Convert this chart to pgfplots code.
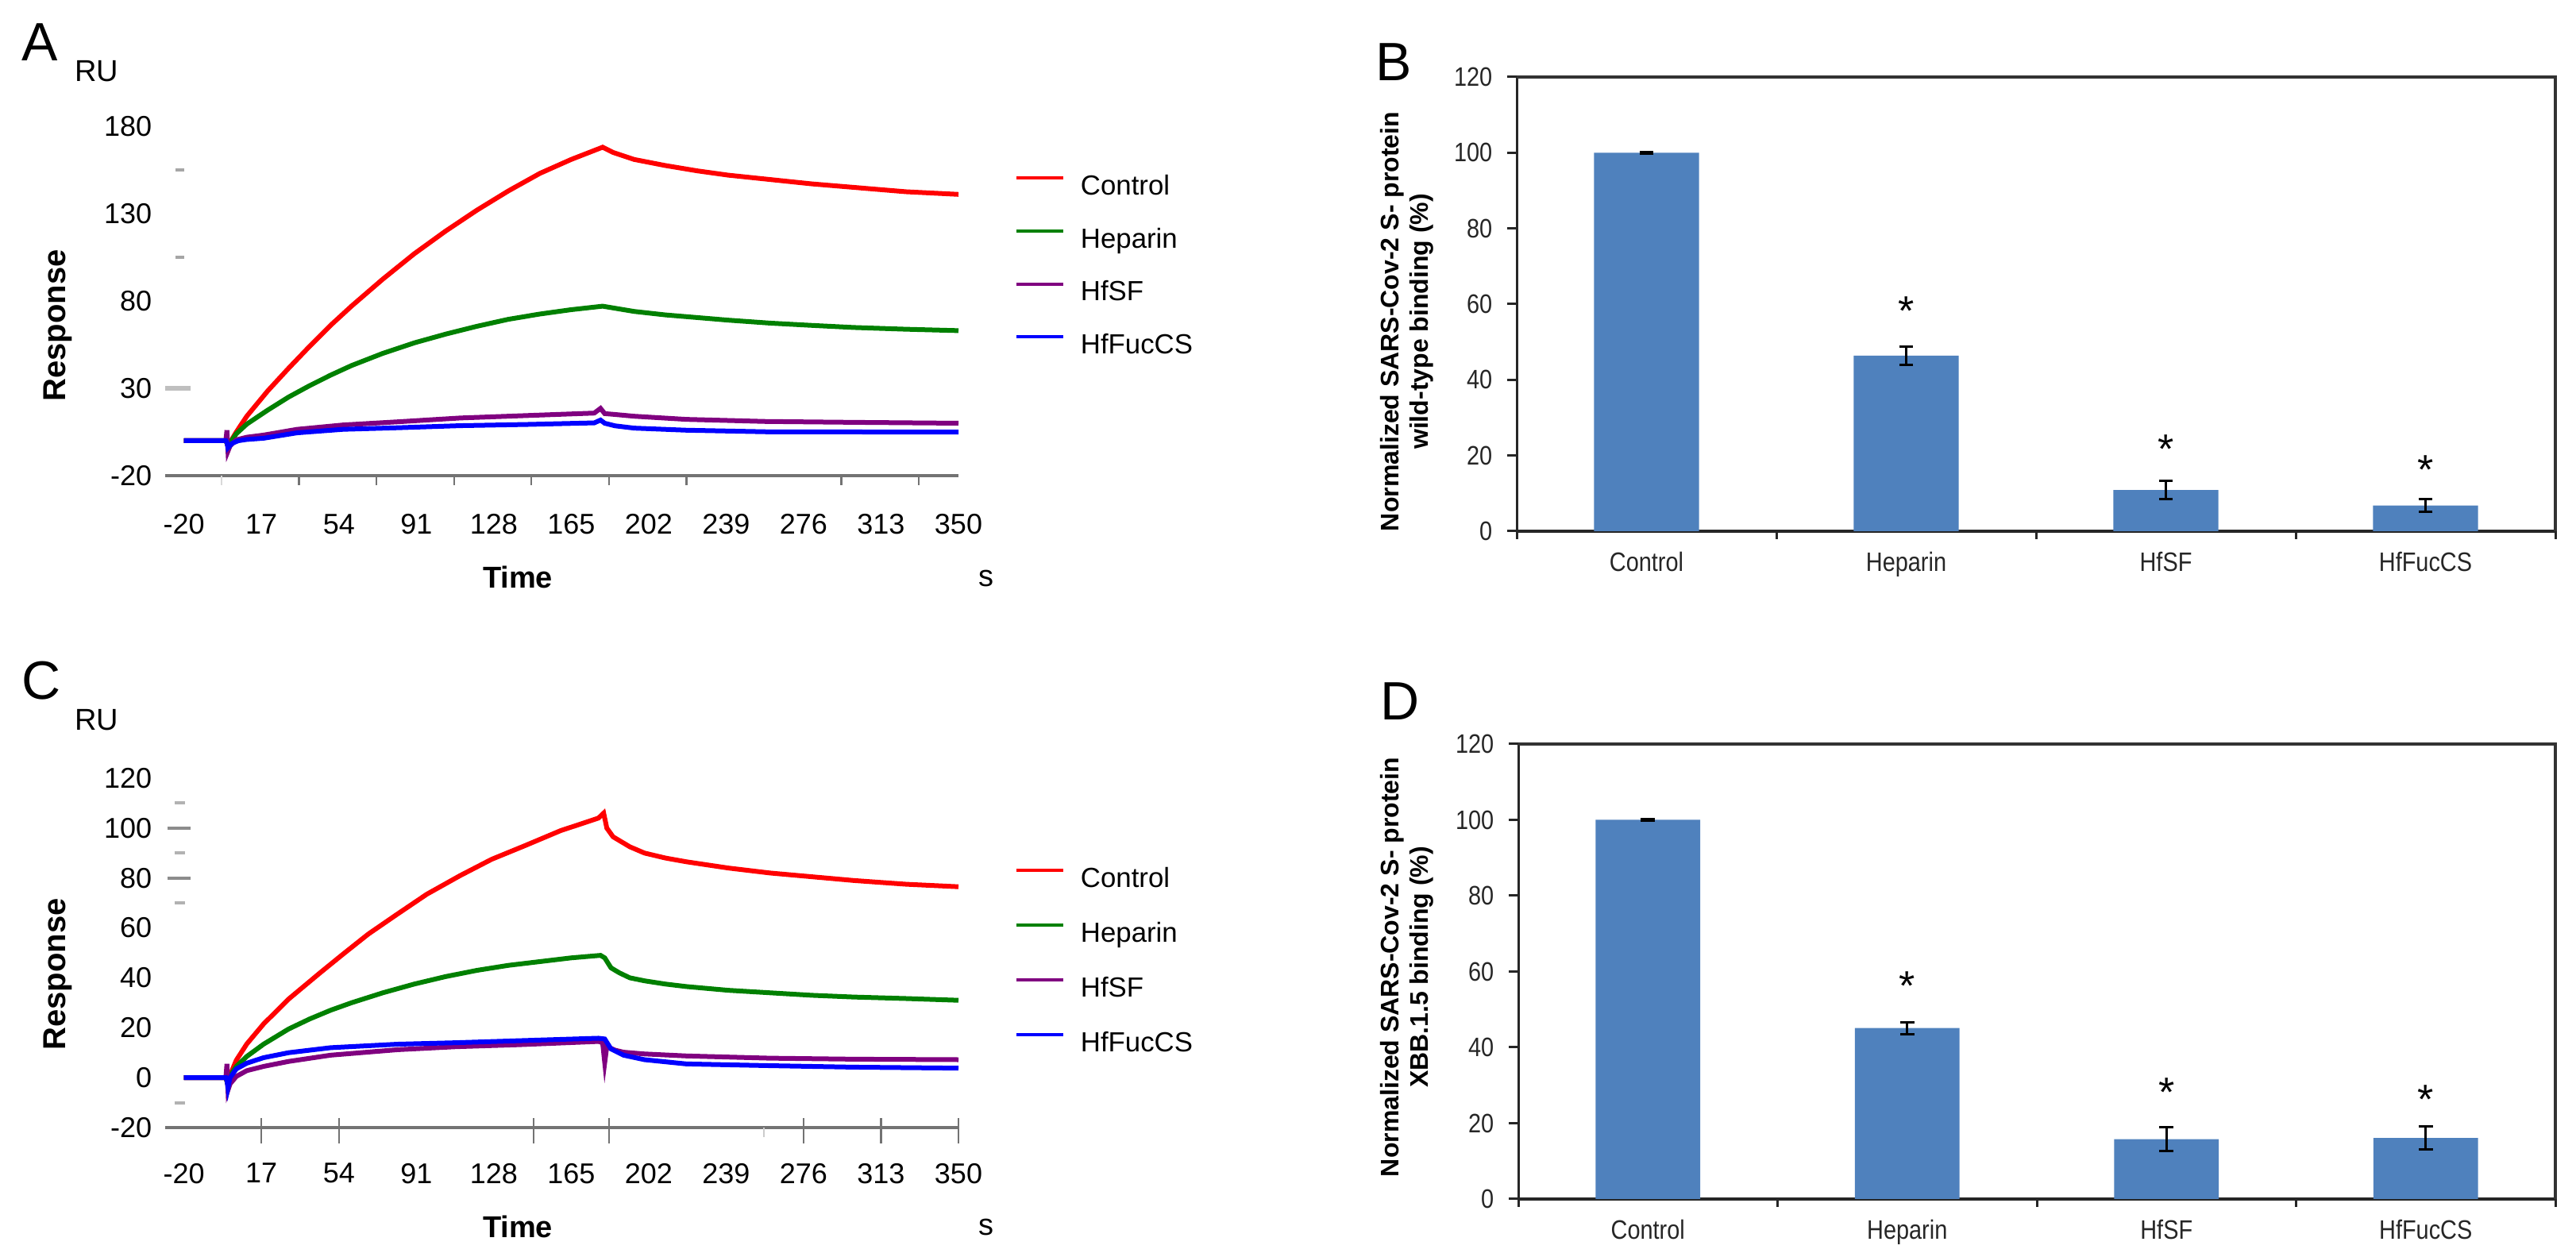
\documentclass[border=0pt]{standalone}
\usepackage{fontspec}
\setmainfont{Liberation Sans}
\newfontfamily\narrowfont{Liberation Sans}[FakeStretch=0.86]
\usepackage{pgfplots}
\pgfplotsset{compat=1.18}

\definecolor{barblue}{RGB}{79,129,189}
\definecolor{cgreen}{RGB}{0,128,0}
\definecolor{cpurple}{RGB}{128,0,128}

\pgfplotsset{
  sensor/.style={
    scale only axis, width=249.75pt, height=110pt,
    xmin=-29, xmax=350, clip=false,
    axis lines*=left,
    x axis line style={draw=black!55, line width=0.8pt},
    y axis line style={draw=none},
    xtick={-20,17,54,91,128,165,202,239,276,313,350},
    xtick style={draw=none}, ytick style={draw=none},
    major tick length=0pt,
    tick label style={font=\fontsize{9}{9}\selectfont},
    xticklabel style={inner sep=0pt, anchor=north},
    yticklabel style={inner sep=0pt, anchor=east, xshift=-4pt},
    /pgf/number format/assume math mode=true,
    legend cell align=left,
    legend image code/.code={\draw[##1, line width=1pt] (0pt,3pt) -- (14.75pt,3pt);},
    legend style={draw=none, fill=none, inner sep=0pt, outer sep=0pt,
      anchor=north west, font=\fontsize{8.7}{8.7}\selectfont,
      nodes={inner sep=0pt, text height=6.5pt, text depth=1.8pt},
      /tikz/every odd column/.append style={column sep=5pt}},
    every axis plot/.append style={line width=1.5pt},
  },
  bars/.style={
    scale only axis, height=143pt,
    xmin=-0.5, xmax=3.5, ymin=0, ymax=120, clip=false,
    axis lines*=left,
    x axis line style={line width=1pt, draw=black!85},
    y axis line style={line width=0.75pt, draw=black!85},
    xtick={0,1,2,3}, xticklabels={Control,Heparin,HfSF,HfFucCS},
    xtick style={draw=none},
    ytick={0,20,...,120},
    ytick style={line width=0.75pt, draw=black!85},
    tick align=outside, major tick length=3pt,
    tick label style={font=\narrowfont\fontsize{8.4}{8.4}\selectfont, text=black!85},
    xticklabel style={inner sep=0pt, anchor=north, yshift=-3.4pt},
    yticklabel style={inner sep=0pt, anchor=east, xshift=-4.5pt},
    /pgf/number format/assume math mode=true,
  },
  barplot/.style={ybar, bar width=0.404, fill=barblue, draw=none,
    error bars/.cd, y dir=both, y explicit,
    error bar style={line width=0.75pt, draw=black},
    error mark options={rotate=90, line width=0.75pt, mark size=2.2pt, draw=black}},
  stars/.style={only marks, mark=text, text mark={*}, text mark as node=true,
    text mark style={font=\fontsize{13}{13}\selectfont, yshift=-2pt, inner sep=0pt}},
}

\begin{document}
\begin{tikzpicture}
\path[use as bounding box] (0,0) rectangle (811pt,395.75pt);

% ---------------- A ----------------
\begin{axis}[sensor, at={(52pt,246pt)}, anchor=south west,
    ymin=-20, ymax=180, ytick={-20,30,80,130,180},
    xticklabel style={yshift=-11.9pt},
    legend style={at={(1.071,0.8627)}, row sep=8.4pt}]
\addplot[red] coordinates {
(-20,0) (0,0) (1,-3) (5,5) (10,14) (20,28.5) (30,41.5) (40,54) (50,66) (60,77)
(75,92.5) (90,107) (105,120) (120,132) (135,143) (150,153) (165,161) (180,168)
(185,165) (195,161) (210,157.5) (225,154.5) (240,152) (260,149.5) (280,147)
(300,145) (325,142.5) (350,141)};
\addlegendentry{Control}
\addplot[cgreen] coordinates {
(-20,0) (0,0) (1,-3) (5,4) (10,9.5) (20,17.5) (30,25) (40,31.5) (50,37.5) (60,43)
(75,50) (90,56) (105,61) (120,65.5) (135,69.5) (150,72.5) (165,75) (180,77)
(185,76) (195,74) (210,72) (225,70.5) (240,69) (260,67.3) (280,66) (300,64.8)
(325,63.8) (350,63)};
\addlegendentry{Heparin}
\addplot[cpurple] coordinates {
(-20,0) (0,0) (0.5,6) (1,-6) (2,-3) (5,0.5) (10,2) (18,3.2) (34,6.5) (56,9)
(82,10.8) (112,13) (144,14.4) (176,15.8) (179,18.5) (181,15.5) (186,15) (195,14)
(220,12.2) (258,11) (300,10.5) (350,10)};
\addlegendentry{HfSF}
\addplot[blue] coordinates {
(-20,0) (0,0) (0.5,-1) (1,-4) (3,-1.5) (6,0) (10,0.7) (18,1.4) (34,4.5) (56,6.5)
(82,7.4) (112,8.6) (144,9.3) (176,10.2) (179,11.8) (181,10) (186,8.5) (195,7.2)
(220,6) (258,5.1) (300,5) (350,4.9)};
\addlegendentry{HfFucCS}
\pgfplotsinvokeforeach{35,72,109,146,183,220,294,331}{
  \draw[black!55, line width=0.6pt] (axis cs:#1,-20) -- ([yshift=-3pt]axis cs:#1,-20);}
\draw[black!15, line width=0.6pt] (axis cs:-2,-20) -- ([yshift=-3pt]axis cs:-2,-20);
\draw[black!25, line width=1.5pt] (axis cs:-29,30) -- ([xshift=8pt]axis cs:-29,30);
\draw[black!35, line width=1pt] (axis cs:-24,105) -- ([xshift=2.75pt]axis cs:-24,105);
\draw[black!35, line width=1pt] (axis cs:-24,155) -- ([xshift=2.75pt]axis cs:-24,155);
\end{axis}

% ---------------- C ----------------
\begin{axis}[sensor, at={(52pt,40.75pt)}, anchor=south west,
    ymin=-20, ymax=120, ytick={-20,0,...,120},
    xticklabel style={yshift=-11.1pt},
    legend style={at={(1.071,0.7468)}, row sep=8.95pt}]
\addplot[red] coordinates {
(-20,0) (0,0) (1,-3) (3,3) (5,7) (10,13.5) (18,21.5) (30,31.5) (45,42) (56,49.5)
(68,57.5) (81,65) (96,73.5) (112,81) (127,87.5) (143,93) (160,99) (178,104)
(180.5,106) (182,100) (185,96.5) (193,92.5) (200,90) (210,88) (220,86.5)
(240,84) (260,82) (280,80.5) (300,79) (325,77.5) (350,76.5)};
\addlegendentry{Control}
\addplot[cgreen] coordinates {
(-20,0) (0,0) (1,-3) (3,2) (5,4.5) (10,8.5) (18,13.4) (30,19.5) (40,23.5) (50,27)
(60,30) (75,34) (90,37.5) (105,40.5) (120,43) (135,45) (150,46.5) (165,48)
(179,49) (181,48) (184,44) (188,42) (193,40) (200,38.8) (210,37.5) (220,36.5)
(240,35) (260,34) (280,33) (300,32.3) (325,31.7) (350,31)};
\addlegendentry{Heparin}
\addplot[cpurple] coordinates {
(-20,0) (0,0) (0.5,5.5) (1,-5) (2,-2.5) (5,0.5) (10,2.8) (18,4.5) (30,6.5) (50,9)
(82,11.2) (110,12.4) (140,13.2) (178,14.5) (180,14) (181,6) (182,12.5) (186,11)
(190,10.2) (200,9.5) (220,8.7) (260,7.8) (300,7.4) (350,7.2)};
\addlegendentry{HfSF}
\addplot[blue] coordinates {
(-20,0) (0,0) (0.5,-1) (1,-4) (2,0) (5,3.5) (10,5.8) (18,8) (30,10) (50,12)
(82,13.4) (110,14) (140,14.8) (178,15.8) (181,15.5) (184,11.5) (190,9) (200,7.2)
(220,5.5) (260,4.8) (300,4.2) (350,3.8)};
\addlegendentry{HfFucCS}
\pgfplotsinvokeforeach{17,54,147,183,276,313,350}{
  \draw[black!55, line width=0.6pt] ([yshift=3pt]axis cs:#1,-20) -- ([yshift=-5pt]axis cs:#1,-20);}
\draw[black!20, line width=0.6pt] (axis cs:257,-20) -- ([yshift=-3pt]axis cs:257,-20);
\draw[black!45, line width=1pt] (axis cs:-28,100) -- ([xshift=7.25pt]axis cs:-28,100);
\draw[black!45, line width=1pt] (axis cs:-28,80) -- ([xshift=7.25pt]axis cs:-28,80);
\pgfplotsinvokeforeach{110,90,70,-10}{
  \draw[black!30, line width=1pt] (axis cs:-24.5,#1) -- ([xshift=3.25pt]axis cs:-24.5,#1);}
\end{axis}

% ---------------- B ----------------
\begin{axis}[bars, at={(477.5pt,228.5pt)}, anchor=south west, width=327pt]
\addplot[barplot]
  coordinates {(0,100) +- (0,0.2) (1,46.4) +- (0,2.4) (2,10.9) +- (0,2.4) (3,6.8) +- (0,1.7)};
\addplot[stars] coordinates {(1,59.8) (2,23.4) (3,18)};
\pgfplotsinvokeforeach{-0.5,0.5,1.5,2.5,3.5}{
  \draw[black!85, line width=0.75pt] (axis cs:#1,0) -- ([yshift=-2.5pt]axis cs:#1,0);}
\draw[black!80, line width=1pt] (rel axis cs:0,1) -- (rel axis cs:1,1) -- (rel axis cs:1,0);
\end{axis}

% ---------------- D ----------------
\begin{axis}[bars, at={(478pt,18.25pt)}, anchor=south west, width=326.5pt, height=143.25pt]
\addplot[barplot]
  coordinates {(0,100) +- (0,0.2) (1,45.1) +- (0,1.6) (2,15.8) +- (0,3.2) (3,16.1) +- (0,3)};
\addplot[stars] coordinates {(1,57.8) (2,29.9) (3,27.9)};
\pgfplotsinvokeforeach{-0.5,0.5,1.5,2.5,3.5}{
  \draw[black!85, line width=0.75pt] (axis cs:#1,0) -- ([yshift=-2.5pt]axis cs:#1,0);}
\draw[black!80, line width=1pt] (rel axis cs:0,1) -- (rel axis cs:1,1) -- (rel axis cs:1,0);
\end{axis}

% ---------------- panel texts ----------------
\node[font=\fontsize{17}{17}\selectfont] at (12.5pt,382.5pt) {A};
\node[font=\fontsize{9.5}{9.5}\selectfont] at (30.5pt,373.25pt) {RU};
\node[rotate=90, font=\bfseries\fontsize{10}{10}\selectfont] at (18.25pt,293.25pt) {Response};
\node[font=\bfseries\fontsize{9.5}{9.5}\selectfont] at (163pt,214pt) {Time};
\node[font=\fontsize{9.5}{9.5}\selectfont] at (310.5pt,213.5pt) {s};

\node[font=\fontsize{17}{17}\selectfont] at (13pt,181.5pt) {C};
\node[font=\fontsize{9.5}{9.5}\selectfont] at (30.5pt,169pt) {RU};
\node[rotate=90, font=\bfseries\fontsize{10}{10}\selectfont] at (18.25pt,89pt) {Response};
\node[font=\bfseries\fontsize{9.5}{9.5}\selectfont] at (163pt,9.5pt) {Time};
\node[font=\fontsize{9.5}{9.5}\selectfont] at (310.5pt,9.5pt) {s};

\node[font=\fontsize{17}{17}\selectfont] at (438.75pt,376.25pt) {B};
\node[rotate=90, align=center, font=\bfseries\fontsize{8}{9.25}\selectfont]
  at (442.9pt,294.5pt) {Normalized SARS-Cov-2 S- protein\\wild-type binding (\%)};
\node[font=\fontsize{17}{17}\selectfont] at (440.75pt,175pt) {D};
\node[rotate=90, align=center, font=\bfseries\fontsize{8}{9.25}\selectfont]
  at (442.9pt,91.25pt) {Normalized SARS-Cov-2 S- protein\\XBB.1.5 binding (\%)};
\end{tikzpicture}
\end{document}
